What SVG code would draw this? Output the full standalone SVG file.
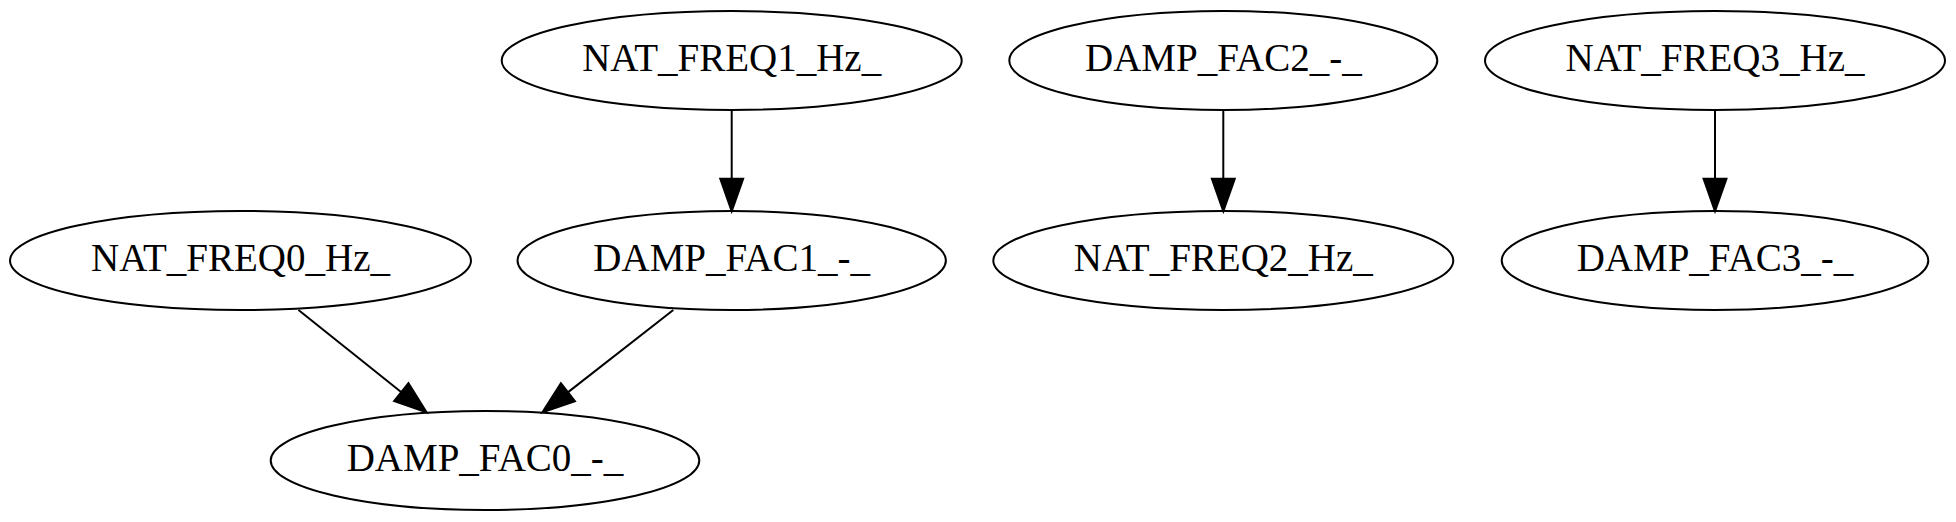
<svg xmlns="http://www.w3.org/2000/svg" width="1956" height="522" viewBox="0 0 1956 522">
<style>
.node ellipse{fill:none;stroke:#000;stroke-width:2}
.node text{font-family:"Liberation Serif","Times New Roman",serif;font-size:39px;fill:#000;text-anchor:middle}
.edge{fill:none;stroke:#000;stroke-width:2}
</style>
<defs>
<marker id="arr" markerUnits="userSpaceOnUse" markerWidth="40" markerHeight="30" viewBox="-2 -12 34 24" refX="0" refY="0" orient="auto">
<path d="M0,-9.5 L27,0 L0,9.5 z" fill="#000" stroke="#000" stroke-width="2"/>
</marker>
</defs>
<rect width="1956" height="522" fill="#fff"/>
<g id="connectors">
<line class="edge" x1="298.5" y1="310" x2="401.4" y2="392.2" marker-end="url(#arr)"/>
<line class="edge" x1="673.3" y1="310" x2="567.8" y2="392.4" marker-end="url(#arr)"/>
<line class="edge" x1="731.7" y1="110" x2="731.7" y2="179" marker-end="url(#arr)"/>
<line class="edge" x1="1223.3" y1="110" x2="1223.3" y2="179" marker-end="url(#arr)"/>
<line class="edge" x1="1715" y1="110" x2="1715" y2="179" marker-end="url(#arr)"/>
</g>
<g id="NAT_FREQ0_Hz_" class="node"><ellipse cx="240.5" cy="260.5" rx="230.5" ry="49.5"/><text x="240.5" y="270.5">NAT_FREQ0_Hz_</text></g>
<g id="DAMP_FAC0_-_" class="node"><ellipse cx="485" cy="460.5" rx="214.3" ry="49.5"/><text x="485" y="470.5">DAMP_FAC0_-_</text></g>
<g id="NAT_FREQ1_Hz_" class="node"><ellipse cx="731.7" cy="60.5" rx="230" ry="49.5"/><text x="731.7" y="70.5">NAT_FREQ1_Hz_</text></g>
<g id="DAMP_FAC1_-_" class="node"><ellipse cx="731.7" cy="260.5" rx="214.2" ry="49.5"/><text x="731.7" y="270.5">DAMP_FAC1_-_</text></g>
<g id="DAMP_FAC2_-_" class="node"><ellipse cx="1223.3" cy="60.5" rx="214" ry="49.5"/><text x="1223.3" y="70.5">DAMP_FAC2_-_</text></g>
<g id="NAT_FREQ2_Hz_" class="node"><ellipse cx="1223.3" cy="260.5" rx="230" ry="49.5"/><text x="1223.3" y="270.5">NAT_FREQ2_Hz_</text></g>
<g id="NAT_FREQ3_Hz_" class="node"><ellipse cx="1715" cy="60.5" rx="230" ry="49.5"/><text x="1715" y="70.5">NAT_FREQ3_Hz_</text></g>
<g id="DAMP_FAC3_-_" class="node"><ellipse cx="1715" cy="260.5" rx="213.3" ry="49.5"/><text x="1715" y="270.5">DAMP_FAC3_-_</text></g>
</svg>
